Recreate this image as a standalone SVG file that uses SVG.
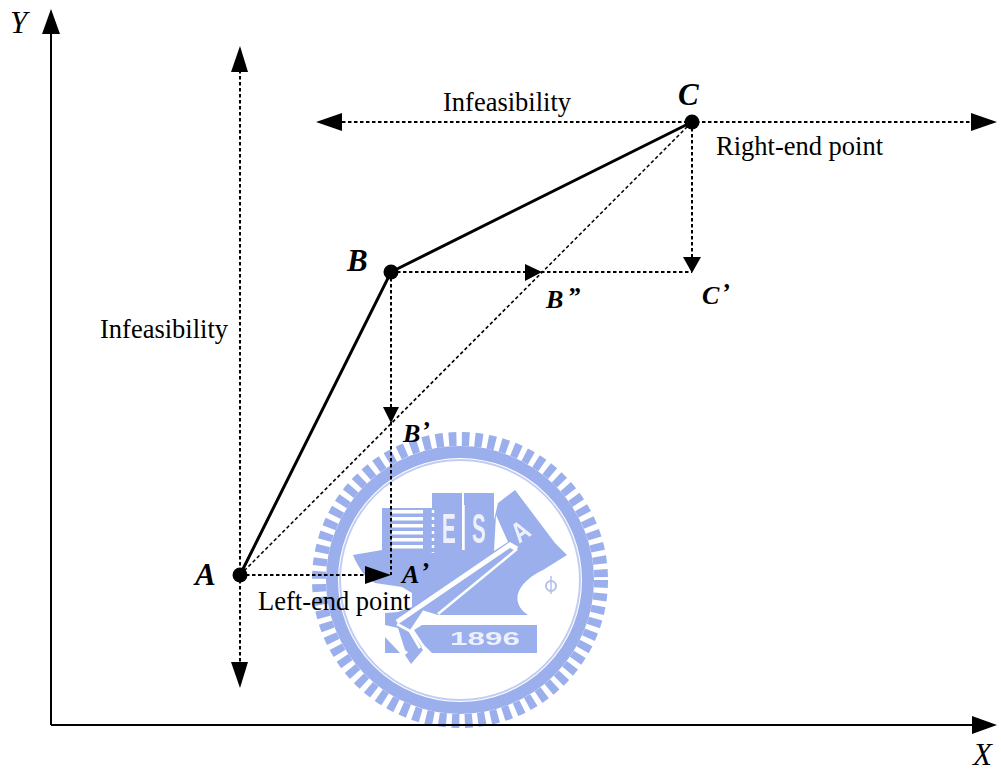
<svg xmlns="http://www.w3.org/2000/svg" width="1001" height="771" viewBox="0 0 1001 771">
<style>
text{font-family:"Liberation Serif","Times New Roman",serif;fill:#000}
.lab{font-size:26.5px}
.pt{font-size:31px;font-weight:bold;font-style:italic}
.pts{font-size:26px;font-weight:bold;font-style:italic}
.ax{font-size:31px;font-style:italic}
.d{fill:none;stroke:#000;stroke-width:2;stroke-dasharray:3.5 2.5}
.w{fill:#9aafec}
.wl{fill:none;stroke:#fff}
.wt{fill:#eef1fc;font-family:"Liberation Sans",sans-serif;font-weight:bold}
.dot{fill:#000}
.h{fill:#000}
</style>
<defs><filter id="soft" x="-5%" y="-5%" width="110%" height="110%"><feGaussianBlur stdDeviation="0.7"/></filter></defs>
<rect width="1001" height="771" fill="#fff"/>
<g id="watermark" filter="url(#soft)">
<circle cx="460" cy="580" r="141" fill="none" stroke="#9aafec" stroke-width="14" stroke-dasharray="7.6 5.46"/>
<circle cx="460" cy="580" r="128" fill="none" stroke="#9aafec" stroke-width="12"/>
<circle cx="460" cy="580" r="120" fill="none" stroke="#c3cdf0" stroke-width="2"/>
<path class="w" d="M382 508H432V493H462V550H464V493H494V520L498 503L515 490L555 543L567 555L543 570C512 585 512 605 528 615H438L412 607V593L402 587L375 583C365 578 358 567 353 555L382 550Z"/>
<path class="w" d="M385 613L398 612L430 600L410 630L422 647L412 655L405 650L398 628L385 625Z"/>
<path class="w" d="M385 637L400 653H385Z"/>
<path class="w" d="M405 655L418 643L423 650L411 664Z"/>
<path class="w" d="M414 630L422 625H537V653H432L424 645Z"/>
<path d="M496 515L508 542L494 551Z" fill="#fff"/>
<g fill="#fff">
<rect x="392" y="510" width="31" height="3.5"/><rect x="392" y="517" width="31" height="3.5"/><rect x="392" y="524" width="31" height="3.5"/><rect x="392" y="531" width="31" height="3.5"/><rect x="392" y="538" width="31" height="3.5"/><rect x="392" y="545" width="31" height="3.5"/>
</g>
<path class="wl" stroke-width="2.5" stroke-dasharray="3 4" d="M433 510V553"/>
<path class="wl" stroke-width="1.5" d="M464 505V550"/>
<path class="wl" stroke-width="5" d="M397 622L510 545L517 549"/>
<path class="wl" stroke-width="2.5" d="M517 549L438 614"/>
<path class="wl" stroke-width="3" d="M397 624L410 631L420 648"/>
<circle cx="551" cy="586" r="5" fill="none" stroke="#b5c0e8" stroke-width="2"/>
<path d="M551 576V594" stroke="#b5c0e8" stroke-width="1.5"/>
<text class="wt" transform="translate(449 543) scale(.48 1)" font-size="43" text-anchor="middle">E</text>
<text class="wt" transform="translate(479 543) scale(.48 1)" font-size="43" text-anchor="middle">S</text>
<text class="wt" transform="translate(526 539) rotate(-35) scale(.8 1)" font-size="28" text-anchor="middle">A</text>
<text class="wt" x="450" y="645" font-size="19" textLength="70" lengthAdjust="spacingAndGlyphs">1896</text>
</g>
<g id="connectors">
<path d="M51 725V32M51 725H972" fill="none" stroke="#000" stroke-width="2"/>
<path d="M240 70V664M342 122H971M692 122V258M391 272V575M391 272H526M240 575H366M391 272H692" class="d"/>
<path d="M240 575L692 122" fill="none" stroke="#000" stroke-width="1.6" stroke-dasharray="3.5 2.5"/>
<path d="M240 575L391 272L692 122" fill="none" stroke="#000" stroke-width="3"/>
<path class="h" d="M51 9L42 34H60Z"/>
<path class="h" d="M997 725L972 716V734Z"/>
<path class="h" d="M240 46L231 72H248Z"/>
<path class="h" d="M240 688L231 662H248Z"/>
<path class="h" d="M316 122L342 113V131Z"/>
<path class="h" d="M997 122L971 113V131Z"/>
<path class="h" d="M692 273L683 257H701Z"/>
<path class="h" d="M391 423L383 407H399Z"/>
<path class="h" d="M542 272L525 264V281Z"/>
<path class="h" d="M391 575L365 566V584Z"/>
</g>
<g id="node-A"><circle class="dot" cx="240" cy="575" r="7.5"/><text class="pt" x="195" y="585">A</text></g>
<g id="node-B"><circle class="dot" cx="391" cy="272" r="7.5"/><text class="pt" x="347" y="271">B</text></g>
<g id="node-C"><circle class="dot" cx="692" cy="122" r="7.5"/><text class="pt" x="678" y="105">C</text></g>
<g id="node-A1"><text class="pts" x="402" y="583">A<tspan dx="3" dy="-3">’</tspan></text></g>
<g id="node-B1"><text class="pts" x="403" y="442">B<tspan dx="1" dy="-3">’</tspan></text></g>
<g id="node-B2"><text class="pts" x="546" y="308">B<tspan dx="4" dy="-3">”</tspan></text></g>
<g id="node-C1"><text class="pts" x="702" y="304">C<tspan dx="2" dy="-3">’</tspan></text></g>
<g id="labels">
<text class="ax" x="10" y="33">Y</text>
<text class="ax" x="973" y="765">X</text>
<text class="lab" x="443" y="111">Infeasibility</text>
<text class="lab" x="100" y="338">Infeasibility</text>
<text class="lab" x="716" y="155">Right-end point</text>
<text class="lab" x="258" y="610">Left-end point</text>
</g>
</svg>
